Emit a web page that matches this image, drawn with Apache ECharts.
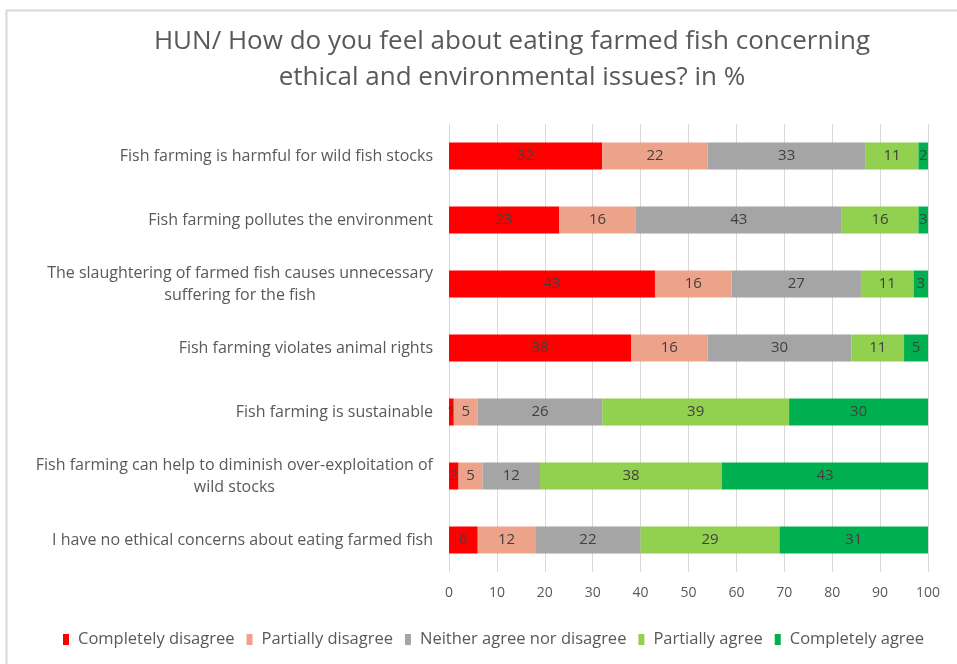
<!DOCTYPE html>
<html>
<head>
<meta charset="utf-8">
<title>HUN farmed fish attitudes</title>
<script src="https://cdn.jsdelivr.net/npm/echarts@6/dist/echarts.min.js"></script>
<style>
  html, body { margin: 0; padding: 0; background: #ffffff; }
  #chart { width: 957px; height: 664px; }
</style>
</head>
<body>
<div id="chart"></div>
<script>
// Statements, top to bottom
const categories = [
  'Fish farming is harmful for wild fish stocks',
  'Fish farming pollutes the environment',
  'The slaughtering of farmed fish causes unnecessary\nsuffering for the fish',
  'Fish farming violates animal rights',
  'Fish farming is sustainable',
  'Fish farming can help to diminish over-exploitation of\nwild stocks',
  'I have no ethical concerns about eating farmed fish'
];

// Answer shares in %, one array per answer option
const completelyDisagree = [32, 23, 43, 38, 1, 2, 6];
const partiallyDisagree  = [22, 16, 16, 16, 5, 5, 12];
const neither            = [33, 43, 27, 30, 26, 12, 22];
const partiallyAgree     = [11, 16, 11, 11, 39, 38, 29];
const completelyAgree    = [2, 3, 3, 5, 30, 43, 31];

const seriesNames = [
  'Completely disagree',
  'Partially disagree',
  'Neither agree nor disagree',
  'Partially agree',
  'Completely agree'
];
const seriesColors = ['#FF0000', '#EDA38A', '#A5A5A5', '#92D050', '#00B050'];
const seriesData = [completelyDisagree, partiallyDisagree, neither, partiallyAgree, completelyAgree];

const xTicks = [0, 10, 20, 30, 40, 50, 60, 70, 80, 90, 100];

const FONT = 'Open Sans';

const chart = echarts.init(document.getElementById('chart'));

chart.setOption({
  backgroundColor: '#ffffff',
  animation: false,
  textStyle: { fontFamily: FONT },
  graphic: [{
    type: 'rect',
    shape: { x: 6.5, y: 10.5, width: 980, height: 700 },
    style: { fill: 'none', stroke: '#D9D9D9', lineWidth: 2 },
    silent: true
  }],
  title: {
    text: 'HUN/ How do you feel about eating farmed fish concerning\nethical and environmental issues? in %',
    left: 507,
    textAlign: 'center',
    top: 19,
    textStyle: {
      fontFamily: FONT,
      fontSize: 26,
      fontWeight: 'normal',
      color: '#595959',
      lineHeight: 36
    }
  },
  legend: {
    bottom: 11,
    left: 58,
    itemWidth: 6,
    itemHeight: 11,
    itemGap: 12,
    icon: 'rect',
    textStyle: { fontFamily: FONT, fontSize: 16.5, color: '#595959', padding: [0, 0, 0, 4] },
    data: seriesNames
  },
  grid: {
    left: 449,
    right: 29,
    top: 124,
    bottom: 92,
    containLabel: false
  },
  xAxis: {
    type: 'value',
    min: 0,
    max: 100,
    interval: 10,
    axisLine: { show: false },
    axisTick: { show: false },
    splitLine: { show: true, lineStyle: { color: '#D9D9D9', width: 1 } },
    axisLabel: {
      fontFamily: FONT,
      fontSize: 14,
      color: '#595959',
      margin: 14,
      formatter: function (v) { return xTicks.indexOf(v) >= 0 ? String(v) : ''; }
    }
  },
  yAxis: {
    type: 'category',
    inverse: true,
    data: categories,
    axisLine: { show: true, lineStyle: { color: '#D9D9D9' } },
    axisTick: { show: false },
    axisLabel: {
      fontFamily: FONT,
      fontSize: 16,
      color: '#595959',
      margin: 16,
      lineHeight: 22,
      formatter: function (v) {
        if (v.indexOf('\n') < 0) return v;
        return v.split('\n').map(function (l) { return '{c|' + l + '}'; }).join('\n');
      },
      rich: {
        c: { align: 'center', fontFamily: FONT, fontSize: 16, color: '#595959', lineHeight: 22 }
      }
    }
  },
  series: seriesData.map(function (d, i) {
    return {
      name: seriesNames[i],
      type: 'bar',
      stack: 'total',
      data: d,
      barWidth: 27,
      itemStyle: { color: seriesColors[i] },
      label: {
        show: true,
        position: 'inside',
        fontFamily: FONT,
        fontSize: 15,
        color: '#404040'
      }
    };
  })
});
</script>
</body>
</html>
